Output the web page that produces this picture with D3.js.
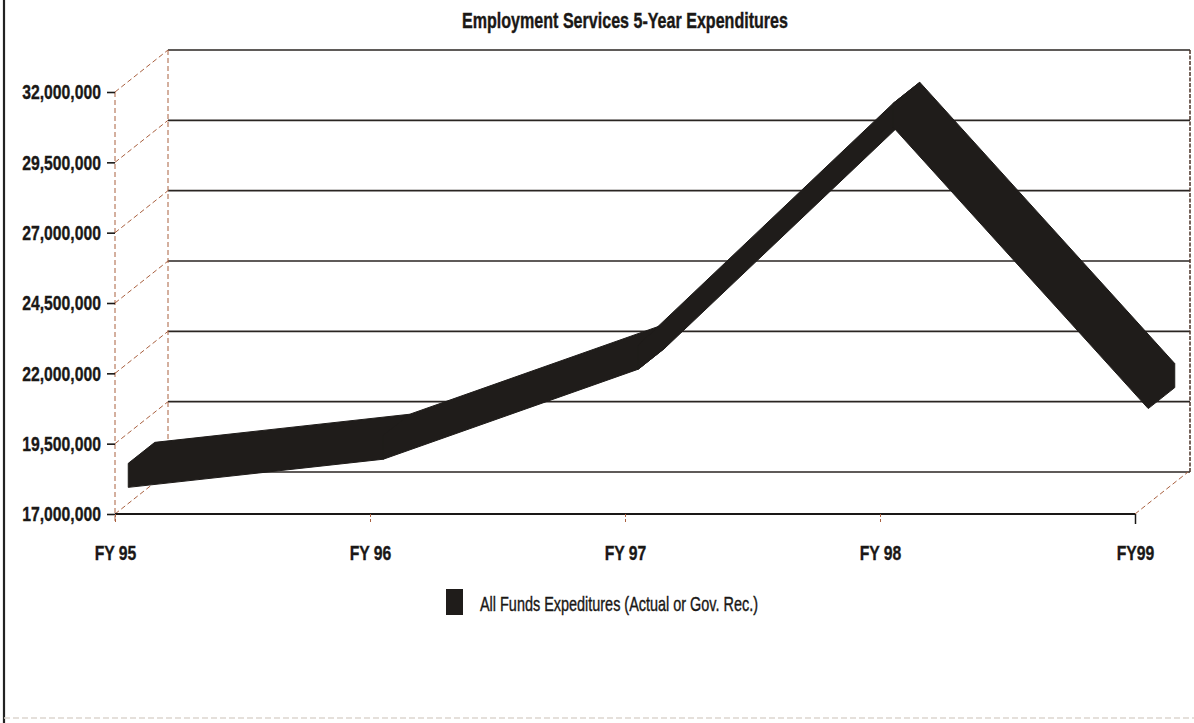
<!DOCTYPE html>
<html>
<head>
<meta charset="utf-8">
<script src="https://cdn.jsdelivr.net/npm/d3@7"></script>
<style>
  html, body { margin: 0; padding: 0; background: #fff; }
  svg { display: block; }
  text { font-family: "Liberation Sans Narrow", "Arial Narrow", "Liberation Sans", Arial, sans-serif; fill: #1a1816; }
</style>
</head>
<body>
<svg id="chart" width="1194" height="723"></svg>
<script>
// Fiscal years along the category axis
const categories = ["FY 95", "FY 96", "FY 97", "FY 98", "FY99"];
// All funds expenditures per year (dollars)
const expenditures = [18000000, 19000000, 22200000, 30800000, 20800000];
// Value axis ticks
const yTicks = [17000000, 19500000, 22000000, 24500000, 27000000, 29500000, 32000000];
const title = "Employment Services 5-Year Expenditures";
const seriesName = "All Funds Expeditures (Actual or Gov. Rec.)";

const svg = d3.select("#chart");

// Oblique 3-D offset of the back wall relative to the front plane
const DX = 53, DY = -42;
// Ribbon spans this depth fraction and has this vertical thickness (px)
const Z0 = 0.25, Z1 = 0.75, THICK = 24;
// Horizontal squeeze giving the condensed lettering
const CONDENSE = 0.75;

const x = d3.scalePoint().domain(categories).range([115, 1135]);
const y = d3.scaleLinear().domain([17000000, 32000000]).range([514, 92]);
const x0 = x(categories[0]), x1 = x(categories[categories.length - 1]);

const dashColor = "#a9603f";
const gridColor = "#2a2522";
const ink = "#1a1816";

function condense(sel, k) {
  sel.each(function () {
    const w = this.getComputedTextLength();
    d3.select(this).attr("textLength", w * k).attr("lengthAdjust", "spacingAndGlyphs");
  });
}

// Page frame
svg.append("line").attr("x1", 4).attr("x2", 4).attr("y1", 0).attr("y2", 723)
  .attr("stroke", "#222").attr("stroke-width", 2.2);
svg.append("line").attr("x1", 4).attr("x2", 1194).attr("y1", 718).attr("y2", 718)
  .attr("stroke", "#ddd6cf").attr("stroke-width", 1.5).attr("stroke-dasharray", "6,3");

// Title
svg.append("text").attr("x", 625).attr("y", 28).attr("text-anchor", "middle")
  .attr("font-size", 22).attr("font-weight", "bold")
  .attr("stroke", ink).attr("stroke-width", 0.4)
  .attr("textLength", 326).attr("lengthAdjust", "spacingAndGlyphs")
  .text(title);

// Back wall gridlines
const back = svg.append("g");
back.selectAll("line.grid").data(yTicks).join("line")
  .attr("class", "grid")
  .attr("x1", x0 + DX).attr("x2", x1 + DX + 2)
  .attr("y1", d => y(d) + DY).attr("y2", d => y(d) + DY)
  .attr("stroke", gridColor).attr("stroke-width", 1.6);
// Back wall left edge
back.append("line").attr("x1", x0 + DX).attr("x2", x0 + DX)
  .attr("y1", y(32000000) + DY).attr("y2", y(17000000) + DY)
  .attr("stroke", dashColor).attr("stroke-width", 1).attr("stroke-dasharray", "5,3");
// Back wall right edge
back.append("line").attr("x1", x1 + DX + 2).attr("x2", x1 + DX + 2)
  .attr("y1", y(32000000) + DY).attr("y2", y(17000000) + DY)
  .attr("stroke", "#4a3226").attr("stroke-width", 1.5).attr("stroke-dasharray", "4,1.5");
// Side wall depth connectors
back.selectAll("line.depth").data(yTicks).join("line")
  .attr("class", "depth")
  .attr("x1", x0).attr("x2", x0 + DX)
  .attr("y1", d => y(d)).attr("y2", d => y(d) + DY)
  .attr("stroke", dashColor).attr("stroke-width", 1).attr("stroke-dasharray", "5,3");
// Floor right edge
back.append("line").attr("x1", x1).attr("x2", x1 + DX)
  .attr("y1", y(17000000)).attr("y2", y(17000000) + DY)
  .attr("stroke", dashColor).attr("stroke-width", 1).attr("stroke-dasharray", "5,3");
// Front vertical axis line
back.append("line").attr("x1", x0).attr("x2", x0)
  .attr("y1", y(32000000)).attr("y2", y(17000000) + 10)
  .attr("stroke", dashColor).attr("stroke-width", 1).attr("stroke-dasharray", "5,3");

// Ribbon: each segment is a box between consecutive points; its hull forms the silhouette
function corners(i) {
  const cx = x(categories[i]), cy = y(expenditures[i]);
  const pts = [];
  [Z0, Z1].forEach(z => {
    pts.push([cx + z * DX, cy + z * DY - THICK / 2]);
    pts.push([cx + z * DX, cy + z * DY + THICK / 2]);
  });
  return pts;
}
const segs = d3.range(expenditures.length - 1).map(i => d3.polygonHull(corners(i).concat(corners(i + 1))));
svg.append("g").selectAll("path").data(segs).join("path")
  .attr("d", d => "M" + d.join("L") + "Z")
  .attr("fill", "#1f1c1a").attr("stroke", "#1f1c1a").attr("stroke-width", 1).attr("stroke-linejoin", "round");

// Value axis
const yAxis = svg.append("g").attr("transform", `translate(${x0},0)`)
  .call(d3.axisLeft(y).tickValues(yTicks).tickFormat(d3.format(",")).tickSize(8).tickPadding(6));
yAxis.select(".domain").remove();
yAxis.selectAll(".tick line").attr("stroke", ink).attr("stroke-width", 1.6);
yAxis.selectAll(".tick text")
  .attr("font-family", null).attr("font-size", 21).attr("font-weight", "bold").attr("fill", ink)
  .attr("stroke", ink).attr("stroke-width", 0.35)
  .call(condense, CONDENSE);

// Category axis
const xAxis = svg.append("g").attr("transform", `translate(0,${y(17000000)})`)
  .call(d3.axisBottom(x).tickSize(10).tickPadding(8));
xAxis.select(".domain").attr("d", `M${x0},0H${x1}`).attr("stroke", ink).attr("stroke-width", 1.8);
xAxis.selectAll(".tick line").attr("stroke", dashColor).attr("stroke-dasharray", "3,2");
xAxis.selectAll(".tick:last-of-type line").attr("stroke", ink).attr("stroke-dasharray", null).attr("stroke-width", 1.5);
xAxis.selectAll(".tick text")
  .attr("font-family", null).attr("font-size", 21).attr("font-weight", "bold").attr("fill", ink)
  .attr("stroke", ink).attr("stroke-width", 0.35)
  .attr("y", 46).attr("dy", null)
  .call(condense, CONDENSE);

// Legend
const legend = svg.append("g");
legend.append("rect").attr("x", 446).attr("y", 589).attr("width", 17).attr("height", 26).attr("fill", "#1f1c1a");
legend.append("text").attr("x", 480).attr("y", 611)
  .attr("font-size", 21)
  .attr("stroke", ink).attr("stroke-width", 0.4)
  .attr("textLength", 278).attr("lengthAdjust", "spacingAndGlyphs")
  .text(seriesName);
</script>
</body>
</html>
